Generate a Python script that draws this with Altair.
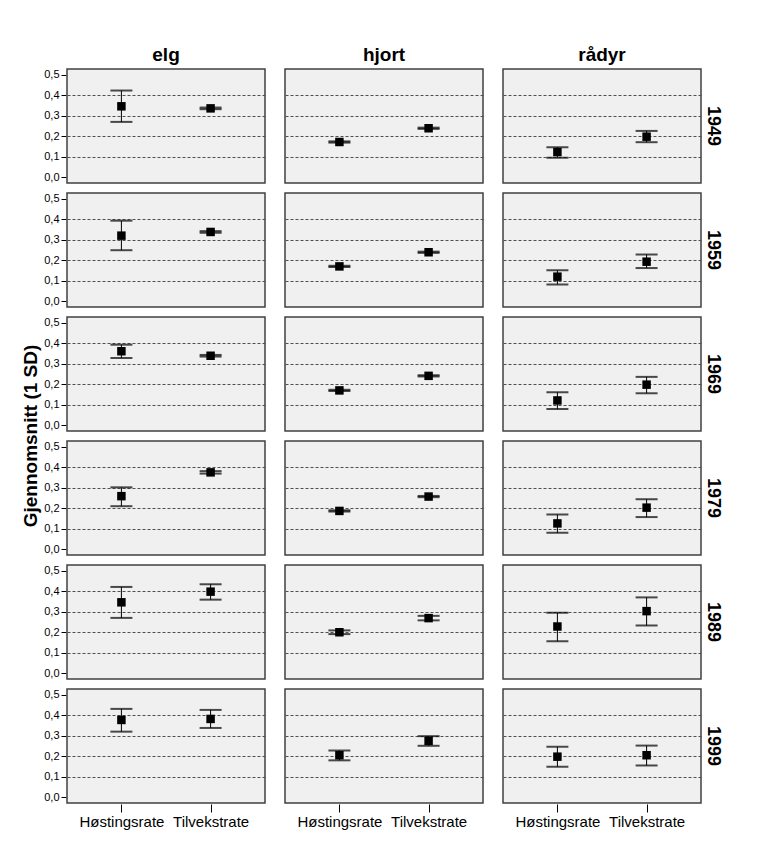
import altair as alt
import pandas as pd

species = ["elg", "hjort", "rådyr"]
years = ["1949", "1959", "1969", "1979", "1989", "1999"]
variables = ["Høstingsrate", "Tilvekstrate"]

# mean, lower (−1 SD), upper (+1 SD) per year, for Høstingsrate / Tilvekstrate
elg_h_mean = [0.346, 0.320, 0.361, 0.259, 0.346, 0.377]
elg_h_lo = [0.270, 0.249, 0.328, 0.210, 0.270, 0.320]
elg_h_hi = [0.423, 0.393, 0.393, 0.302, 0.421, 0.431]
elg_t_mean = [0.336, 0.338, 0.339, 0.375, 0.398, 0.382]
elg_t_lo = [0.332, 0.334, 0.335, 0.369, 0.359, 0.338]
elg_t_hi = [0.340, 0.342, 0.343, 0.381, 0.434, 0.426]

hjort_h_mean = [0.172, 0.170, 0.170, 0.187, 0.200, 0.205]
hjort_h_lo = [0.169, 0.167, 0.167, 0.184, 0.191, 0.180]
hjort_h_hi = [0.175, 0.173, 0.173, 0.190, 0.209, 0.228]
hjort_t_mean = [0.239, 0.239, 0.241, 0.257, 0.269, 0.275]
hjort_t_lo = [0.236, 0.236, 0.238, 0.254, 0.258, 0.251]
hjort_t_hi = [0.242, 0.242, 0.244, 0.260, 0.280, 0.298]

radyr_h_mean = [0.123, 0.120, 0.121, 0.126, 0.228, 0.198]
radyr_h_lo = [0.095, 0.082, 0.079, 0.080, 0.156, 0.149]
radyr_h_hi = [0.146, 0.151, 0.161, 0.169, 0.295, 0.246]
radyr_t_mean = [0.198, 0.193, 0.198, 0.203, 0.303, 0.205]
radyr_t_lo = [0.171, 0.162, 0.156, 0.157, 0.233, 0.155]
radyr_t_hi = [0.226, 0.228, 0.236, 0.244, 0.370, 0.252]

series = {
    ("elg", "Høstingsrate"): (elg_h_mean, elg_h_lo, elg_h_hi),
    ("elg", "Tilvekstrate"): (elg_t_mean, elg_t_lo, elg_t_hi),
    ("hjort", "Høstingsrate"): (hjort_h_mean, hjort_h_lo, hjort_h_hi),
    ("hjort", "Tilvekstrate"): (hjort_t_mean, hjort_t_lo, hjort_t_hi),
    ("rådyr", "Høstingsrate"): (radyr_h_mean, radyr_h_lo, radyr_h_hi),
    ("rådyr", "Tilvekstrate"): (radyr_t_mean, radyr_t_lo, radyr_t_hi),
}

rows = []
for (sp, var), (m, lo, hi) in series.items():
    for i, yr in enumerate(years):
        rows.append({"species": sp, "variable": var, "year": yr,
                     "mean": m[i], "lo": lo[i], "hi": hi[i]})
df = pd.DataFrame(rows)

FONT = "Liberation Sans"

yscale = alt.Scale(domain=[-0.028, 0.528], nice=False, zero=False)
xscale = alt.Scale(type="point", domain=variables, padding=0.61)

yaxis = alt.Axis(
    values=[0.0, 0.1, 0.2, 0.3, 0.4, 0.5],
    labelExpr="replace(format(datum.value, '.1f'), '.', ',')",
    labelOverlap=False,
    grid=True,
    gridDash=[3, 2],
    gridColor="#505050",
    gridWidth=1,
    gridOpacity={"condition": {"test": "datum.value < 0.05 || datum.value > 0.45", "value": 0}, "value": 1},
    domain=False,
    tickColor="#000000",
    tickSize=5,
    labelFontSize=11,
    labelColor="#000000",
    labelFont=FONT,
    labelPadding=2,
    title=None,
)
xaxis = alt.Axis(
    title=None,
    labelAngle=0,
    labelFontSize=15,
    labelFont=FONT,
    labelColor="#000000",
    tickSize=8,
    tickColor="#000000",
    domain=False,
    grid=False,
    labelPadding=2,
)

base = alt.Chart(df)
X = alt.X("variable:N", scale=xscale, axis=xaxis, sort=variables)

rules = base.mark_rule(color="black", strokeWidth=1).encode(
    x=X,
    y=alt.Y("lo:Q", scale=yscale, axis=yaxis),
    y2="hi:Q",
)
cap_lo = base.mark_tick(color="black", size=22, thickness=2).encode(
    x=X,
    y=alt.Y("lo:Q", scale=yscale, axis=yaxis),
)
cap_hi = base.mark_tick(color="black", size=22, thickness=2).encode(
    x=X,
    y=alt.Y("hi:Q", scale=yscale, axis=yaxis),
)
points = base.mark_square(color="black", opacity=1, size=72, filled=True).encode(
    x=X,
    y=alt.Y("mean:Q", scale=yscale, axis=yaxis),
)

layered = alt.layer(rules, cap_lo, cap_hi, points).properties(width=198, height=114)

chart = layered.facet(
    row=alt.Row("year:N", sort=years, title="Gjennomsnitt (1 SD)",
                header=alt.Header(labelOrient="right", labelAngle=90,
                                  labelFontSize=18, labelFontWeight="bold",
                                  labelFont=FONT, labelColor="#000000",
                                  labelPadding=2,
                                  titleOrient="left", titleFontSize=19,
                                  titleFontWeight="bold", titleFont=FONT,
                                  titleColor="#000000", titlePadding=-8)),
    column=alt.Column("species:N", sort=species, title=None,
                      header=alt.Header(labelFontSize=19, labelFontWeight="bold",
                                        labelFont=FONT, labelColor="#000000",
                                        labelPadding=3)),
    spacing={"row": 8, "column": 18},
).properties(
    padding={"left": 21, "top": 46, "right": 5, "bottom": 5},
    background="white",
).configure_view(
    fill="#f0f0f0",
    stroke="#404040",
    strokeWidth=1.5,
)

chart.save("out.html", embed_options={"renderer": "svg", "actions": False})
